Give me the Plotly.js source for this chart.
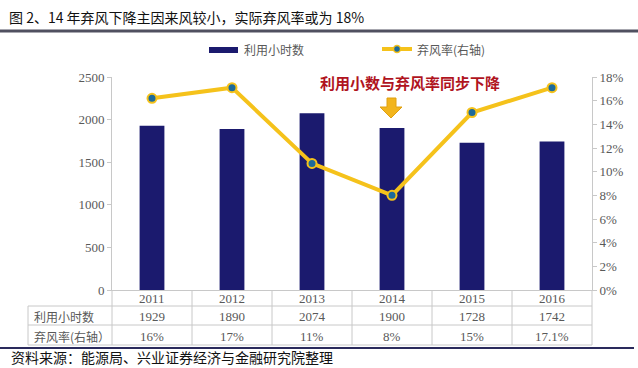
<!DOCTYPE html>
<html><head><meta charset="utf-8">
<script src="https://cdn.plot.ly/plotly-3.0.1.min.js"></script>
<style>html,body{margin:0;padding:0;background:#fff;}#chart{width:638px;height:368px;}</style>
</head><body><div id="chart"></div>
<script>
const years = ['2011','2012','2013','2014','2015','2016'];
const hours = [1929, 1890, 2074, 1900, 1728, 1742];
const curtail = [16.2, 17.1, 10.7, 8.0, 15.0, 17.1];
const curtailLabels = ['16%', '17%', '11%', '8%', '15%', '17.1%'];
const seriesNames = ['利用小时数', '弃风率(右轴）'];
const legendNames = ['利用小时数', '弃风率(右轴)'];
const titleText = '图&nbsp;2、14&nbsp;年弃风下降主因来风较小，实际弃风率或为&nbsp;18%';
const noteText = '利用小数与弃风率同步下降';
const sourceText = '资料来源：能源局、兴业证券经济与金融研究院整理';

const W = 638, H = 368, L = 112, R = 592, T = 77, B = 290;
const px = x => (x - L) / (R - L);
const py = y => (B - y) / (B - T);

const serif = 'Liberation Serif, Noto Serif CJK SC, Noto Sans CJK SC, serif';
const cjk = 'Noto Sans CJK SC, sans-serif';
const grey = '#595959';
const navy = '#1b1a6e';
const gold = '#f5c21b';

const traces = [
  {type: 'bar', x: years, y: hours, name: seriesNames[0], marker: {color: navy}, width: 0.31, yaxis: 'y', showlegend: false, hoverinfo: 'skip'},
  {type: 'scatter', mode: 'lines+markers', x: years, y: curtail, name: seriesNames[1], yaxis: 'y2',
   line: {color: gold, width: 4}, marker: {color: '#1d6a9a', size: 9, line: {color: gold, width: 2}}, showlegend: false, hoverinfo: 'skip'}
];

const shapes = [];
const annotations = [];
const lineC = '#c8c8c8';
shapes.push({type: 'line', xref: 'paper', yref: 'paper', x0: px(0), x1: px(W), y0: py(31), y1: py(31), line: {color: '#505060', width: 3}});
shapes.push({type: 'line', xref: 'paper', yref: 'paper', x0: px(0), x1: px(634), y0: py(348), y1: py(348), line: {color: '#2a2a5c', width: 2}});
[306, 325, 345].forEach(y => shapes.push({type: 'line', xref: 'paper', yref: 'paper', x0: px(28), x1: 1, y0: py(y), y1: py(y), line: {color: lineC, width: 1}}));
shapes.push({type: 'line', xref: 'paper', yref: 'paper', x0: px(28), x1: px(28), y0: py(306), y1: py(345), line: {color: lineC, width: 1}});
for (let i = 0; i <= years.length; i++) {
  const xx = i / years.length;
  shapes.push({type: 'line', xref: 'paper', yref: 'paper', x0: xx, x1: xx, y0: py(290), y1: py(345), line: {color: lineC, width: 1}});
}
shapes.push({type: 'rect', xref: 'paper', yref: 'paper', x0: px(209), x1: px(238), y0: py(47), y1: py(53), fillcolor: navy, line: {width: 0}});
shapes.push({type: 'line', xref: 'paper', yref: 'paper', x0: px(382), x1: px(412), y0: py(49), y1: py(49), line: {color: gold, width: 4}});
shapes.push({type: 'circle', xref: 'paper', yref: 'paper', x0: px(393.5), x1: px(400.5), y0: py(52.5), y1: py(45.5), fillcolor: '#1d6a9a', line: {color: gold, width: 1.5}});
const ap = [[387,98],[396,98],[396,107],[402,107],[391,118],[380,107],[387,107]];
shapes.push({type: 'path', xref: 'paper', yref: 'paper',
  path: 'M ' + ap.map(p => px(p[0]) + ',' + py(p[1])).join(' L ') + ' Z',
  fillcolor: '#f2b51d', line: {color: '#e0a010', width: 1}});

annotations.push({xref: 'paper', yref: 'paper', x: px(7), y: py(17), xanchor: 'left', yanchor: 'middle', text: titleText, showarrow: false, font: {family: cjk, size: 14, color: '#111'}});
annotations.push({xref: 'paper', yref: 'paper', x: px(9), y: py(357), xanchor: 'left', yanchor: 'middle', text: sourceText, showarrow: false, font: {family: cjk, size: 14, color: '#111'}});
annotations.push({xref: 'paper', yref: 'paper', x: px(410), y: py(82), xanchor: 'center', yanchor: 'middle', text: '<b>' + noteText + '</b>', showarrow: false, font: {family: cjk, size: 15, color: '#b0141e'}});
annotations.push({xref: 'paper', yref: 'paper', x: px(242), y: py(50), xanchor: 'left', yanchor: 'middle', text: legendNames[0], showarrow: false, font: {family: cjk, size: 12, color: grey}});
annotations.push({xref: 'paper', yref: 'paper', x: px(415), y: py(49), xanchor: 'left', yanchor: 'middle', text: legendNames[1], showarrow: false, font: {family: cjk, size: 12, color: grey}});
annotations.push({xref: 'paper', yref: 'paper', x: px(32), y: py(316), xanchor: 'left', yanchor: 'middle', text: seriesNames[0], showarrow: false, font: {family: cjk, size: 12, color: grey}});
annotations.push({xref: 'paper', yref: 'paper', x: px(32), y: py(336), xanchor: 'left', yanchor: 'middle', text: seriesNames[1], showarrow: false, font: {family: cjk, size: 12, color: grey}});
years.forEach((yr, i) => {
  const cx = (i + 0.5) / years.length;
  annotations.push({xref: 'paper', yref: 'paper', x: cx, y: py(298), xanchor: 'center', text: yr, showarrow: false, yanchor: 'middle', font: {family: serif, size: 13, color: grey}});
  annotations.push({xref: 'paper', yref: 'paper', x: cx, y: py(316), xanchor: 'center', text: String(hours[i]), showarrow: false, yanchor: 'middle', font: {family: serif, size: 13, color: grey}});
  annotations.push({xref: 'paper', yref: 'paper', x: cx, y: py(336), xanchor: 'center', text: curtailLabels[i], showarrow: false, yanchor: 'middle', font: {family: serif, size: 13, color: grey}});
});

const layout = {
  width: W, height: H,
  margin: {l: L, r: W - R, t: T, b: H - B, pad: 0},
  paper_bgcolor: '#fff', plot_bgcolor: '#fff',
  showlegend: false,
  xaxis: {type: 'category', showticklabels: false, ticks: '', showgrid: false, zeroline: false,
          showline: true, linecolor: lineC, linewidth: 1, range: [-0.5, 5.5], fixedrange: true},
  yaxis: {range: [0, 2500], dtick: 500, showgrid: false, zeroline: false, showline: true, linecolor: lineC, linewidth: 1,
          ticks: 'outside', ticklen: 4, tickcolor: lineC, tickfont: {family: serif, size: 13, color: grey}},
  yaxis2: {overlaying: 'y', side: 'right', range: [0, 18], dtick: 2, ticksuffix: '%', showgrid: false, zeroline: false,
           showline: true, linecolor: lineC, linewidth: 1, ticks: 'outside', ticklen: 4, tickcolor: lineC,
           tickfont: {family: serif, size: 13, color: grey}},
  shapes: shapes,
  annotations: annotations
};
Plotly.newPlot('chart', traces, layout, {staticPlot: true, displayModeBar: false});
</script></body></html>
